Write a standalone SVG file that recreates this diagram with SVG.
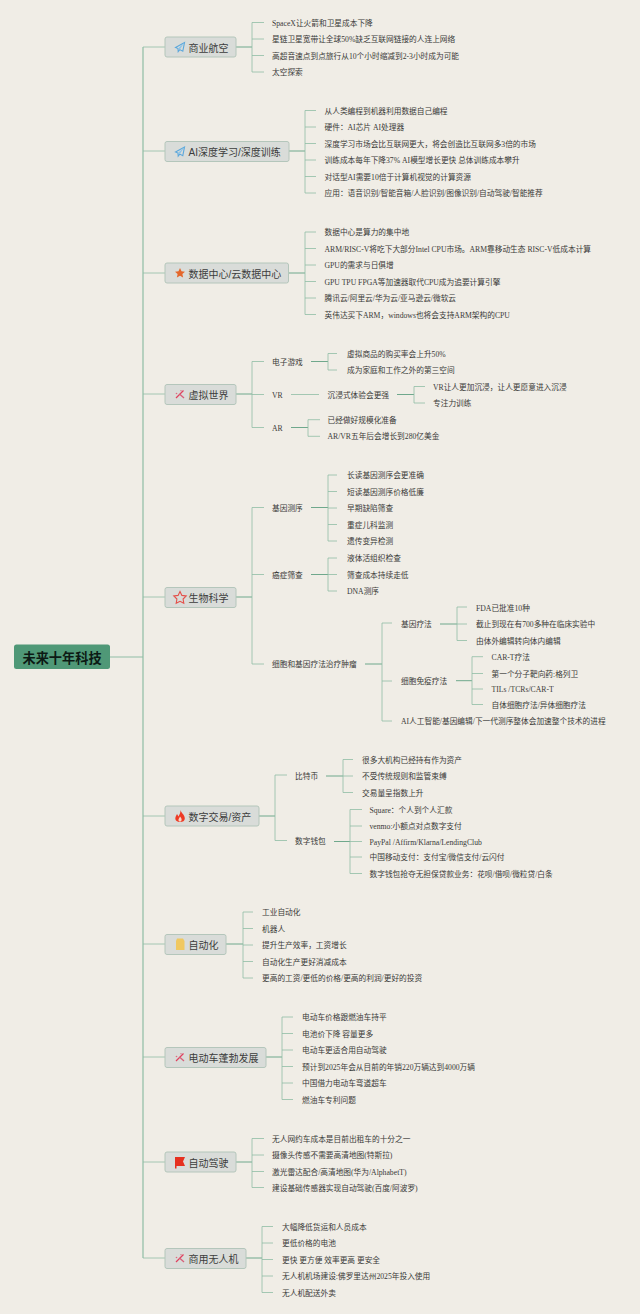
<svg xmlns="http://www.w3.org/2000/svg" xmlns:xlink="http://www.w3.org/1999/xlink" width="640" height="1314" viewBox="0 0 640 1314">
<style>
.t{font-family:"Liberation Serif","Noto Sans CJK SC",serif;font-size:7.7px;fill:#3a3a38}
.n{font-family:"Liberation Sans","Noto Sans CJK SC",sans-serif;font-size:10px;fill:#3c3c3c}
.r{font-family:"Liberation Sans","Noto Sans CJK SC",sans-serif;font-size:13.2px;font-weight:700;fill:#0c1a14}
.b{fill:#d9dcd9;stroke:#b4c6bb;stroke-width:1}
.c{fill:none;stroke:#8fbda5;stroke-width:.8}
.m{fill:none;stroke:#6fa88c;stroke-width:1}
.k{fill:none;stroke:#8fbda5;stroke-width:1.2}
</style>
<defs>
<g id="plane"><path d="M-4.5 0.5L4.5-4.5L2.8 4.2L-0.2 2.6L-1.8 4.6L-2 1.6Z" fill="none" stroke="#5aa7dc" stroke-width="1.1"/><path d="M-2 1.6L4.5-4.5L-0.2 2.6" fill="#8cc4ea"/></g>
<g id="spark"><path d="M-4 3.5L3.5-4" stroke="#e0405e" stroke-width="1.3" fill="none"/><path d="M-0.5-0.5L4 3.5" stroke="#d8607a" stroke-width="1.3" fill="none"/><circle cx="-3.5" cy="-1" r=".8" fill="#e06a80"/><circle cx="1" cy="-3.8" r=".6" fill="#d8607a"/></g>
</defs>
<rect width="640" height="1314" fill="#f0ede6"/>
<g id="connectors">
<path class="k" d="M143 47V1258M110 657H143"/>
<path class="c" d="M143 47H165M143 151H165M143 273H165M143 394H165M143 597H165M143 816H165M143 944H165M143 1057H165M143 1162H165M143 1258H165"/>
<path class="m" d="M236 47H252M289 151H305M288 273H305M236 394H252M236 597H252M259 816H275M226 944H243M266 1057H282M236 1162H252M246 1258H262"/>
<path class="c" d="M252 22.500V72H264M252 39H264M252 55.500H264M252 22.500H264"/>
<path class="c" d="M305 110.500V193H316M305 127H316M305 143.500H316M305 160H316M305 176.500H316M305 110.500H316"/>
<path class="c" d="M305 232V314.500H316M305 248.500H316M305 265H316M305 281.500H316M305 298H316M305 232H316"/>
<path class="c" d="M252 361.500V427.500H264M252 361.500H264M252 394.500H264"/>
<path class="m" d="M311 361.500H328M397 394.500H414M291 427.500H308"/>
<path class="c" d="M291 394.500H319M328 353.500V370H337M328 353.500H337M414 386.500V403H425M414 386.500H425M308 419.700V436.300H320M308 419.700H320"/>
<path class="c" d="M252 507.500V664H264M252 507.500H264M252 574.500H264"/>
<path class="m" d="M311 507.500H328M311 574.500H328M365 664H382M440 624H457M456 680.700H472M326 776H343M334 841.500H350"/>
<path class="c" d="M328 475V541H337M328 475H337M328 491.500H337M328 508H337M328 524.500H337"/>
<path class="c" d="M328 558V591H337M328 558H337M328 574.500H337"/>
<path class="c" d="M382 623V721H392M382 623H392M382 681H392"/>
<path class="c" d="M457 607V640.500H467M457 607H467M457 624H467"/>
<path class="c" d="M472 656.700V704.500H483M472 656.700H483M472 673.500H483M472 689H483"/>
<path class="c" d="M275 775V840.500H287M275 775H287"/>
<path class="c" d="M343 759.500V792.500H353M343 759.500H353M343 776H353"/>
<path class="c" d="M350 809.500V873.500H362M350 809.500H362M350 826H362M350 841.500H362M350 857H362"/>
<path class="c" d="M243 912V978H253M243 912H253M243 928.500H253M243 945H253M243 961.500H253"/>
<path class="c" d="M282 1017V1099.500H293M282 1017H293M282 1033.500H293M282 1050H293M282 1066.500H293M282 1083H293"/>
<path class="c" d="M252 1138.500V1187.500H264M252 1138.500H264M252 1155H264M252 1171.500H264"/>
<path class="c" d="M262 1226.500V1292.500H273M262 1226.500H273M262 1243H273M262 1259.500H273M262 1276H273"/>
</g>
<g id="root"><rect x="14" y="644.500" width="96" height="24.500" rx="2.500" fill="#4f9877"/><text class="r" x="22.500" y="662.500">未来十年科技</text></g>
<g id="n-hangkong"><rect class="b" x="165" y="37" width="71" height="20" rx="2"/><use xlink:href="#plane" x="180" y="47"/><text class="n" x="188.500" y="51.500">商业航空</text></g>
<g id="n-ai"><rect class="b" x="165" y="141.500" width="124" height="20" rx="2"/><use xlink:href="#plane" x="180" y="151.500"/><text class="n" x="188.500" y="156">AI深度学习/深度训练</text></g>
<g id="n-data"><rect class="b" x="165" y="263" width="123.500" height="20" rx="2"/><path d="M180 268L181.500 271.300L185 271.700L182.400 274L183.100 277.600L180 275.800L176.900 277.600L177.600 274L175 271.700L178.500 271.300Z" fill="#e4672b"/><text class="n" x="188.500" y="277.500">数据中心/云数据中心</text></g>
<g id="n-virtual"><rect class="b" x="165" y="384.500" width="71" height="20" rx="2"/><use xlink:href="#spark" x="180" y="394.500"/><text class="n" x="188.500" y="399">虚拟世界</text></g>
<g id="n-bio"><rect class="b" x="165" y="587.500" width="71" height="20" rx="2"/><path d="M180 591.500L181.900 595.400L186.200 596L183.100 599L183.800 603.300L180 601.300L176.200 603.300L176.900 599L173.800 596L178.100 595.400Z" fill="none" stroke="#e4504a" stroke-width="1.100"/><text class="n" x="188.500" y="602">生物科学</text></g>
<g id="n-digital"><rect class="b" x="165" y="806" width="94" height="20" rx="2"/><path d="M180.500 810C181 813 184.800 814.500 184.800 818.500C184.800 821 182.800 822 180 822C177.200 822 175.300 820.800 175.300 818.500C175.300 816.500 176.500 815.500 177 814C177.800 815 178 815.800 178.300 816.500C179.300 815 180.800 812.500 180.500 810Z" fill="#ee3a24"/><path d="M180 816.500C181.200 818 182 819 181.500 820.500C181 822 179 822 178.500 820.500C178.200 819 179.500 818 180 816.500Z" fill="#f6d8c8"/><text class="n" x="188.500" y="820.500">数字交易/资产</text></g>
<g id="n-auto"><rect class="b" x="165" y="934.500" width="61" height="20" rx="2"/><path d="M177 938.500H183L184.500 941V950H176V941Z" fill="#f0c860"/><text class="n" x="188.500" y="949">自动化</text></g>
<g id="n-ev"><rect class="b" x="165" y="1047.500" width="101" height="20" rx="2"/><use xlink:href="#spark" x="180" y="1057.500"/><text class="n" x="188.500" y="1062">电动车蓬勃发展</text></g>
<g id="n-drive"><rect class="b" x="165" y="1152" width="71" height="20" rx="2"/><path d="M175 1157H185L183 1161.500L185 1166H176.500V1168.500H175Z" fill="#e6301f"/><text class="n" x="188.500" y="1166.500">自动驾驶</text></g>
<g id="n-drone"><rect class="b" x="165" y="1248.500" width="81" height="20" rx="2"/><use xlink:href="#spark" x="180" y="1258.500"/><text class="n" x="188.500" y="1263">商用无人机</text></g>
<g id="leaves">
<text class="t" x="272" y="25.500">SpaceX让火箭和卫星成本下降</text>
<text class="t" x="272" y="42">星链卫星宽带让全球50%缺乏互联网链接的人连上网络</text>
<text class="t" x="272" y="58.500">高超音速点到点旅行从10个小时缩减到2-3小时成为可能</text>
<text class="t" x="272" y="75">太空探索</text>
<text class="t" x="324.500" y="113.500">从人类编程到机器利用数据自己编程</text>
<text class="t" x="324.500" y="130">硬件：AI芯片 AI处理器</text>
<text class="t" x="324.500" y="146.500">深度学习市场会比互联网更大，将会创造比互联网多3倍的市场</text>
<text class="t" x="324.500" y="163">训练成本每年下降37% AI模型增长更快 总体训练成本攀升</text>
<text class="t" x="324.500" y="179.500">对话型AI需要10倍于计算机视觉的计算资源</text>
<text class="t" x="324.500" y="196">应用：语音识别/智能音箱/人脸识别/图像识别/自动驾驶/智能推荐</text>
<text class="t" x="324.500" y="235">数据中心是算力的集中地</text>
<text class="t" x="324.500" y="251.500">ARM/RISC-V将吃下大部分Intel CPU市场。ARM靠移动生态 RISC-V低成本计算</text>
<text class="t" x="324.500" y="268">GPU的需求与日俱增</text>
<text class="t" x="324.500" y="284.500">GPU TPU FPGA等加速器取代CPU成为追要计算引擎</text>
<text class="t" x="324.500" y="301">腾讯云/阿里云/华为云/亚马逊云/微软云</text>
<text class="t" x="324.500" y="317.500">英伟达买下ARM，windows也将会支持ARM架构的CPU</text>
<text class="t" x="272" y="364.700">电子游戏</text>
<text class="t" x="272" y="397.500">VR</text>
<text class="t" x="272" y="430.500">AR</text>
<text class="t" x="347" y="356.500">虚拟商品的购买率会上升50%</text>
<text class="t" x="347" y="373">成为家庭和工作之外的第三空间</text>
<text class="t" x="327.500" y="397.500">沉浸式体验会更强</text>
<text class="t" x="433" y="389.500">VR让人更加沉浸，让人更愿意进入沉浸</text>
<text class="t" x="433" y="406">专注力训练</text>
<text class="t" x="327.500" y="422.700">已经做好规模化准备</text>
<text class="t" x="327.500" y="439.300">AR/VR五年后会增长到280亿美金</text>
<text class="t" x="272" y="510.500">基因测序</text>
<text class="t" x="272" y="577.500">癌症筛查</text>
<text class="t" x="272" y="667">细胞和基因疗法治疗肿瘤</text>
<text class="t" x="347" y="478">长读基因测序会更准确</text>
<text class="t" x="347" y="494.500">短读基因测序价格低廉</text>
<text class="t" x="347" y="511">早期缺陷筛查</text>
<text class="t" x="347" y="527.500">重症儿科监测</text>
<text class="t" x="347" y="544">遗传变异检测</text>
<text class="t" x="347" y="561">液体活组织检查</text>
<text class="t" x="347" y="577.500">筛查成本持续走低</text>
<text class="t" x="347" y="594">DNA测序</text>
<text class="t" x="401" y="627">基因疗法</text>
<text class="t" x="401" y="684">细胞免疫疗法</text>
<text class="t" x="401" y="724">AI人工智能/基因编辑/下一代测序整体会加速整个技术的进程</text>
<text class="t" x="476" y="610.500">FDA已批准10种</text>
<text class="t" x="476" y="627">截止到现在有700多种在临床实验中</text>
<text class="t" x="476" y="643.500">由体外编辑转向体内编辑</text>
<text class="t" x="491.500" y="659.700">CAR-T疗法</text>
<text class="t" x="491.500" y="676.500">第一个分子靶向药:格列卫</text>
<text class="t" x="491.500" y="692">TILs /TCRs/CAR-T</text>
<text class="t" x="491.500" y="707.500">自体细胞疗法/异体细胞疗法</text>
<text class="t" x="295" y="779">比特币</text>
<text class="t" x="295" y="844">数字钱包</text>
<text class="t" x="362" y="762.500">很多大机构已经持有作为资产</text>
<text class="t" x="362" y="779">不受传统规则和监管束缚</text>
<text class="t" x="362" y="795.500">交易量呈指数上升</text>
<text class="t" x="369.500" y="812.500">Square：个人到个人汇款</text>
<text class="t" x="369.500" y="829">venmo:小额点对点数字支付</text>
<text class="t" x="369.500" y="844.500">PayPal /Affirm/Klarna/LendingClub</text>
<text class="t" x="369.500" y="860">中国移动支付：支付宝/微信支付/云闪付</text>
<text class="t" x="369.500" y="876.500">数字钱包抢夺无担保贷款业务：花呗/借呗/微粒贷/白条</text>
<text class="t" x="262" y="915">工业自动化</text>
<text class="t" x="262" y="931.500">机器人</text>
<text class="t" x="262" y="948">提升生产效率，工资增长</text>
<text class="t" x="262" y="964.500">自动化生产更好消减成本</text>
<text class="t" x="262" y="981">更高的工资/更低的价格/更高的利润/更好的投资</text>
<text class="t" x="302" y="1020">电动车价格跟燃油车持平</text>
<text class="t" x="302" y="1036.500">电池价下降 容量更多</text>
<text class="t" x="302" y="1053">电动车更适合用自动驾驶</text>
<text class="t" x="302" y="1069.500">预计到2025年会从目前的年销220万辆达到4000万辆</text>
<text class="t" x="302" y="1086">中国借力电动车弯道超车</text>
<text class="t" x="302" y="1102.500">燃油车专利问题</text>
<text class="t" x="272" y="1141.500">无人网约车成本是目前出租车的十分之一</text>
<text class="t" x="272" y="1158">摄像头传感不需要高清地图(特斯拉)</text>
<text class="t" x="272" y="1174.500">激光雷达配合/高清地图(华为/AlphabetT)</text>
<text class="t" x="272" y="1191">建设基础传感器实现自动驾驶(百度/阿波罗)</text>
<text class="t" x="282" y="1229.500">大幅降低货运和人员成本</text>
<text class="t" x="282" y="1246">更低价格的电池</text>
<text class="t" x="282" y="1262.500">更快 更方便 效率更高 更安全</text>
<text class="t" x="282" y="1279">无人机机场建设:佛罗里达州2025年投入使用</text>
<text class="t" x="282" y="1295.500">无人机配送外卖</text>
</g>
</svg>
